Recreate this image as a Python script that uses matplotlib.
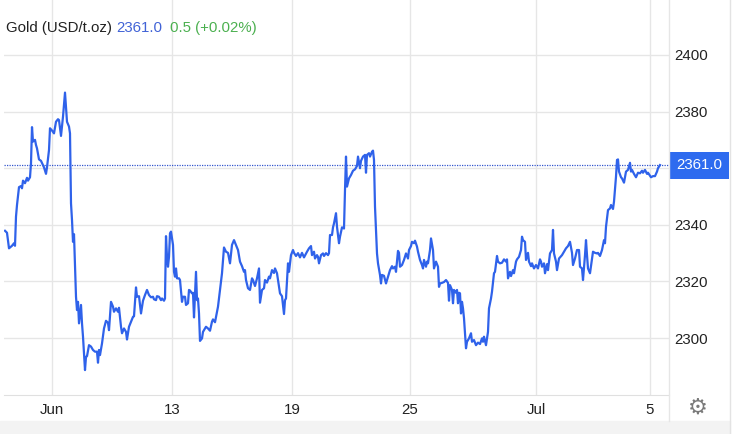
import matplotlib
matplotlib.use('Agg')
import matplotlib.pyplot as plt
from matplotlib.patches import Rectangle
from matplotlib.lines import Line2D

# intraday bars (ordinal index) and gold price
bars = [1, 3, 5, 8, 10, 11, 12, 13, 15, 17, 18, 19, 21, 23, 24, 26, 27, 28, 29, 31,
        32, 33, 35, 37, 39, 40, 42, 43, 45, 46, 48, 50, 52, 54, 55, 57, 59, 60, 61, 63,
        65, 66, 67, 68, 69, 70, 71, 72, 73, 74, 75, 77, 78, 79, 81, 82, 83, 85, 87, 89,
        91, 93, 94, 95, 96, 98, 100, 102, 104, 105, 107, 109, 110, 112, 114, 115, 117, 118, 120, 122,
        123, 125, 127, 129, 130, 132, 133, 135, 137, 139, 141, 143, 145, 147, 149, 150, 152, 153, 155, 157,
        158, 160, 161, 162, 163, 164, 165, 166, 167, 169, 170, 171, 172, 173, 175, 176, 178, 179, 181, 182,
        184, 185, 186, 188, 189, 190, 192, 193, 194, 195, 196, 198, 199, 202, 204, 206, 208, 209, 211, 214,
        216, 218, 220, 222, 224, 226, 228, 230, 232, 234, 236, 238, 240, 241, 242, 244, 246, 248, 249, 251,
        253, 255, 256, 258, 260, 261, 263, 265, 266, 268, 270, 271, 273, 274, 276, 278, 280, 281, 282, 284,
        285, 287, 289, 290, 292, 294, 296, 298, 300, 303, 305, 307, 308, 310, 311, 313, 314, 315, 317, 319,
        320, 322, 324, 325, 326, 328, 329, 330, 332, 333, 335, 336, 338, 340, 341, 342, 343, 345, 347, 349,
        351, 353, 354, 356, 357, 359, 361, 362, 363, 365, 366, 368, 369, 370, 371, 373, 374, 376, 377, 378,
        380, 382, 384, 386, 388, 389, 391, 392, 394, 395, 396, 398, 400, 402, 404, 405, 407, 408, 410, 411,
        413, 414, 416, 418, 419, 420, 422, 423, 424, 426, 427, 429, 430, 432, 434, 435, 436, 438, 440, 442,
        444, 445, 446, 448, 449, 450, 452, 453, 454, 455, 456, 457, 458, 459, 460, 462, 463, 465, 467, 468,
        470, 472, 474, 476, 478, 479, 480, 482, 484, 485, 487, 488, 490, 491, 493, 494, 496, 498, 500, 502,
        503, 504, 506, 507, 509, 510, 512, 513, 515, 517, 518, 519, 521, 522, 524, 525, 527, 528, 530, 532,
        534, 536, 537, 538, 540, 541, 543, 544, 546, 548, 549, 550, 552, 553, 555, 558, 560, 562, 564, 566,
        568, 569, 571, 573, 575, 576, 578, 579, 581, 582, 583, 584, 586, 588, 589, 591, 593, 594, 596, 598,
        600, 601, 602, 604, 606, 607, 609, 610, 612, 613, 614, 615, 617, 618, 620, 622, 624, 626, 627, 628,
        630, 632, 634, 636, 638, 639, 641, 643, 644, 647, 649, 651, 653, 654, 656]
price = [2337.9, 2337.2, 2331.7, 2332.6, 2333.5, 2332.6, 2342.9, 2347.0, 2353.3, 2353.7,
         2352.9, 2355.6, 2354.7, 2356.6, 2355.6, 2356.8, 2361.7, 2374.5, 2369.4, 2370.0,
         2368.2, 2367.0, 2363.1, 2362.6, 2361.1, 2360.3, 2358.0, 2360.3, 2366.4, 2374.1,
         2373.3, 2372.3, 2376.4, 2377.3, 2377.0, 2371.4, 2378.2, 2382.3, 2386.7, 2376.4,
         2374.7, 2372.3, 2347.6, 2341.7, 2334.0, 2336.7, 2325.2, 2314.6, 2309.9, 2312.8,
         2305.2, 2311.7, 2305.2, 2300.5, 2288.7, 2293.4, 2293.6, 2297.5, 2297.0, 2295.8,
         2295.2, 2295.2, 2291.3, 2295.8, 2294.0, 2298.1, 2303.4, 2306.1, 2305.4, 2302.8,
         2312.8, 2311.1, 2309.3, 2310.5, 2309.3, 2310.7, 2304.0, 2301.7, 2303.4, 2302.2,
         2299.5, 2304.0, 2305.8, 2307.5, 2307.7, 2317.9, 2314.6, 2314.8, 2308.7, 2313.2,
         2315.2, 2317.0, 2315.2, 2314.4, 2314.6, 2313.7, 2313.4, 2314.8, 2314.6, 2313.4,
         2314.0, 2313.2, 2314.0, 2336.0, 2328.7, 2325.2, 2328.7, 2337.0, 2337.6, 2332.9,
         2323.4, 2321.7, 2324.6, 2321.1, 2321.1, 2320.5, 2312.8, 2314.6, 2314.6, 2311.7,
         2312.3, 2317.0, 2316.8, 2315.8, 2316.0, 2307.3, 2323.4, 2313.4, 2314.0, 2308.7,
         2299.0, 2299.9, 2302.2, 2304.0, 2303.4, 2302.6, 2305.8, 2306.6, 2305.6, 2311.1,
         2317.0, 2322.9, 2332.0, 2330.5, 2330.1, 2326.4, 2332.9, 2334.6, 2332.9, 2331.1,
         2327.0, 2325.4, 2323.4, 2324.0, 2320.5, 2317.6, 2317.0, 2321.1, 2320.5, 2318.4,
         2321.1, 2324.6, 2312.5, 2317.0, 2317.6, 2320.5, 2319.6, 2321.7, 2321.1, 2324.0,
         2323.0, 2324.6, 2322.9, 2320.5, 2315.8, 2314.8, 2308.5, 2313.4, 2314.0, 2326.4,
         2323.4, 2329.3, 2331.1, 2330.1, 2329.0, 2330.0, 2328.5, 2330.1, 2328.5, 2330.5,
         2331.7, 2332.5, 2329.3, 2330.5, 2328.1, 2329.3, 2328.7, 2326.4, 2329.3, 2329.9,
         2329.0, 2330.0, 2329.3, 2330.0, 2336.4, 2336.4, 2339.1, 2340.5, 2344.1, 2339.3,
         2333.5, 2335.8, 2339.1, 2338.7, 2352.3, 2364.1, 2353.5, 2356.4, 2357.6, 2359.1,
         2359.6, 2360.8, 2364.1, 2360.0, 2362.6, 2364.1, 2364.7, 2358.4, 2364.7, 2365.3,
         2364.1, 2365.8, 2366.2, 2362.9, 2346.4, 2329.9, 2326.4, 2322.3, 2319.3, 2322.3,
         2322.0, 2319.3, 2321.7, 2324.0, 2325.4, 2324.6, 2325.2, 2323.4, 2330.8, 2330.1,
         2325.2, 2325.8, 2327.6, 2329.9, 2328.1, 2331.1, 2332.5, 2334.0, 2333.5, 2334.4,
         2332.3, 2330.5, 2327.6, 2325.8, 2324.6, 2327.6, 2325.2, 2327.0, 2326.4, 2331.1,
         2335.2, 2331.1, 2324.6, 2327.0, 2325.2, 2318.1, 2319.3, 2319.5, 2319.8, 2320.5,
         2319.5, 2313.2, 2318.7, 2317.0, 2312.3, 2317.0, 2316.0, 2317.0, 2312.3, 2316.0,
         2315.8, 2308.7, 2312.8, 2310.5, 2307.0, 2296.4, 2298.7, 2299.9, 2301.7, 2298.7,
         2299.3, 2297.5, 2298.4, 2297.9, 2299.9, 2298.7, 2300.5, 2297.5, 2302.2, 2310.5,
         2314.0, 2316.4, 2322.9, 2323.4, 2329.0, 2327.0, 2326.4, 2326.6, 2327.8, 2327.0,
         2327.8, 2321.1, 2323.4, 2321.9, 2324.0, 2322.9, 2327.0, 2327.8, 2328.7, 2331.1,
         2335.8, 2334.6, 2334.0, 2327.6, 2330.1, 2327.0, 2325.4, 2326.4, 2324.6, 2325.8,
         2324.6, 2327.8, 2327.0, 2325.2, 2326.4, 2322.9, 2326.1, 2324.0, 2329.9, 2331.1,
         2338.2, 2329.9, 2327.0, 2324.0, 2328.1, 2329.3, 2330.5, 2331.7, 2332.5, 2334.0,
         2330.1, 2325.8, 2328.1, 2331.1, 2331.1, 2325.2, 2324.6, 2320.5, 2329.3, 2334.6,
         2329.3, 2324.6, 2322.9, 2328.1, 2330.5, 2330.1, 2329.9, 2330.1, 2329.0, 2331.1,
         2334.6, 2333.5, 2339.3, 2345.2, 2345.8, 2347.0, 2345.6, 2348.2, 2357.0, 2362.9,
         2363.1, 2358.8, 2356.8, 2356.4, 2354.9, 2358.8, 2359.4, 2361.9, 2358.8, 2359.4,
         2358.0, 2356.8, 2358.4, 2358.2, 2359.1, 2358.4, 2359.4, 2358.0, 2358.4, 2356.8,
         2357.2, 2357.2, 2358.8, 2360.0, 2361.1]

tick_bars = [48, 168, 288, 406, 532, 646]
tick_labels = ['Jun', '13', '19', '25', 'Jul', '5']
y_ticks = [2300, 2320, 2340, 2360, 2380, 2400]
y_labels = ['2300', '2320', '2340', '', '2380', '2400']

last = 2361.0
change = 0.5
change_pct = 0.02

blue = '#2f62ea'
grid_c = '#e6e6e6'

plt.rcParams['font.family'] = ['Liberation Sans', 'DejaVu Sans']

fig = plt.figure(figsize=(7.35, 4.34), dpi=100)
ax = fig.add_axes([4/735, 39/434, 665/735, 395/434])

ax.plot(bars, price, color=blue, lw=1.6, zorder=3)
ax.axhline(last, color='#3355cc', lw=0.9, ls=(0, (1, 1)), zorder=2)

ax.set_xlim(0, 665)
ax.set_ylim(2279.9, 2419.4)
ax.set_xticks(tick_bars)
ax.set_xticklabels(tick_labels)
ax.set_yticks(y_ticks)
ax.set_yticklabels(y_labels)
ax.yaxis.tick_right()
ax.tick_params(axis='both', length=0, labelsize=10.8, colors='#222222')
ax.tick_params(axis='x', pad=6)
ax.tick_params(axis='y', pad=4)
ax.grid(True, color=grid_c, lw=1)
ax.set_axisbelow(True)
for s in ['top', 'left', 'right']:
    ax.spines[s].set_visible(False)
ax.spines['bottom'].set_color('#e0e0e0')

# last price tag on the right axis
ax.annotate('%.1f' % last, xy=(1, last), xycoords=('axes fraction', 'data'),
            xytext=(5, 0), textcoords='offset points', va='center', ha='left',
            fontsize=10.8, color='white',
            bbox=dict(boxstyle='square,pad=0.45', fc='#2e6bef', ec='none'),
            annotation_clip=False, zorder=5)

# header text, three colours side by side
y_head = 1 - 28/434
t1 = fig.text(6/735, y_head, 'Gold (USD/t.oz) ', fontsize=10.8, color='#222222', va='center')
fig.canvas.draw()
x2 = t1.get_window_extent().x1 / fig.bbox.width
t2 = fig.text(x2, y_head, '%.1f' % last, fontsize=10.8, color='#4163d6', va='center')
fig.canvas.draw()
x3 = t2.get_window_extent().x1 / fig.bbox.width + 8/735
fig.text(x3, y_head, '%.1f (+%.2f%%)' % (change, change_pct),
         fontsize=10.8, color='#4cb050', va='center')

# frame pieces around the plot
fig.add_artist(Line2D([669/735, 669/735], [13/434, 1], color='#e6e6e6', lw=1))
fig.add_artist(Line2D([730/735, 730/735], [0, 1], color='#e3e3e3', lw=1))
fig.add_artist(Rectangle((0, 0), 730/735, 13/434, color='#f3f3f3', transform=fig.transFigure))
fig.text(698/735, 1 - 408/434, '\u2699', fontsize=16, color='#7a7a7a', ha='center', va='center',
         family='DejaVu Sans')

fig.savefig('out.png', dpi=100)
